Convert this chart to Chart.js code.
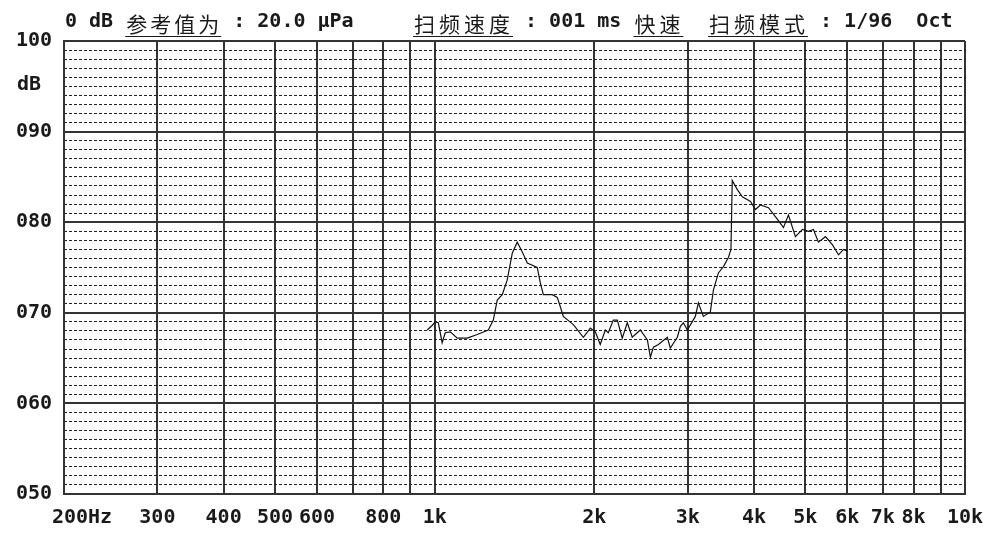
<!DOCTYPE html>
<html><head><meta charset="utf-8">
<script src="https://cdn.jsdelivr.net/npm/chart.js@4.4.1/dist/chart.umd.min.js"></script>
<style>html,body{margin:0;padding:0;background:#fff;}#wrap{width:1005px;height:547px;position:relative;}</style>
</head><body><div id="wrap"><canvas id="c" width="1005" height="547"></canvas></div>
<script>
const freqHz = [968, 989, 1002, 1016, 1033, 1047, 1070, 1103, 1152, 1203, 1262, 1290, 1312, 1341, 1370, 1401, 1431, 1463, 1495, 1561, 1582, 1603, 1666, 1703, 1725, 1748, 1826, 1907, 1966, 2009, 2052, 2098, 2125, 2172, 2210, 2258, 2308, 2358, 2442, 2518, 2551, 2585, 2642, 2746, 2782, 2868, 2906, 2944, 2996, 3101, 3142, 3211, 3310, 3354, 3428, 3504, 3579, 3620, 3640, 3721, 3804, 3940, 4026, 4114, 4260, 4430, 4546, 4646, 4789, 4938, 5068, 5179, 5292, 5456, 5626, 5774, 5900, 6004];
const levelDb = [68.1, 68.6, 69.0, 68.9, 66.7, 67.8, 67.9, 67.2, 67.2, 67.6, 68.1, 69.2, 71.4, 72.0, 73.6, 76.6, 77.8, 76.7, 75.5, 75.0, 73.3, 72.0, 72.0, 71.7, 70.7, 69.6, 68.7, 67.3, 68.3, 67.9, 66.5, 68.1, 67.8, 69.2, 69.2, 67.2, 68.9, 67.3, 68.1, 67.0, 65.1, 66.2, 66.5, 67.3, 66.1, 67.3, 68.5, 68.9, 68.1, 69.6, 71.1, 69.6, 70.1, 72.5, 74.4, 75.1, 76.1, 77.0, 84.6, 83.6, 82.8, 82.3, 81.4, 81.9, 81.6, 80.3, 79.4, 80.8, 78.4, 79.2, 79.0, 79.2, 77.8, 78.4, 77.5, 76.4, 77.0, 76.8];
const xTickValues = [200, 300, 400, 500, 600, 700, 800, 900, 1000, 2000, 3000, 4000, 5000, 6000, 7000, 8000, 9000, 10000];
const xTickLabels = ['200Hz', '300', '400', '500', '600', '', '800', '', '1k', '2k', '3k', '4k', '5k', '6k', '7k', '8k', '', '10k'];
const yMajorValues = [50, 60, 70, 80, 90, 100];
const yTickLabels = ['050', '060', '070', '080', '090', '100'];
const yUnit = 'dB';
const headerGroups = [
  [['0 dB ', false], ['参考值为', true], [' : 20.0 μPa', false]],
  [['扫频速度', true], [' : 001 ms ', false], ['快速', true]],
  [['扫频模式', true], [' : 1/96  Oct', false]]
];

const MONO = "'DejaVu Sans Mono', 'Liberation Mono', monospace";
const CJK = "'Noto Sans CJK SC', sans-serif";
const INK = '#1a1a1a';
const GRID = '#333333';

const headerPlugin = {
  id: 'header',
  afterDraw(chart) {
    const ctx = chart.ctx;
    const starts = [65, 413, 708];
    const pitch = [24, 25, 25];
    ctx.save();
    ctx.fillStyle = INK;
    ctx.strokeStyle = INK;
    ctx.textAlign = 'left';
    ctx.textBaseline = 'alphabetic';
    headerGroups.forEach((g, gi) => {
      let x = starts[gi];
      g.forEach(([txt, cjk]) => {
        if (cjk) {
          ctx.font = "400 21px " + CJK;
          const x0 = x;
          for (const ch of txt) { ctx.fillText(ch, x + 1, 32); x += pitch[gi]; }
          ctx.lineWidth = 1;
          ctx.beginPath(); ctx.moveTo(x0, 36.5); ctx.lineTo(x, 36.5); ctx.stroke();
        } else {
          ctx.font = "bold 20px " + MONO;
          ctx.fillText(txt, x, 27);
          x += ctx.measureText(txt).width;
        }
      });
    });
    const ys = chart.scales.y;
    ctx.font = "bold 20px " + MONO;
    ctx.textBaseline = 'middle';
    ctx.fillText(yUnit, 17, ys.getPixelForValue(95.2));
    ctx.restore();
  }
};

Chart.defaults.font.family = MONO;
Chart.defaults.font.weight = 'bold';
Chart.defaults.font.size = 20;
Chart.defaults.color = INK;

new Chart(document.getElementById('c'), {
  type: 'line',
  data: {
    datasets: [{
      data: freqHz.map((f, i) => ({ x: f, y: levelDb[i] })),
      borderColor: '#111',
      borderWidth: 1.2,
      pointRadius: 0,
      tension: 0,
      fill: false
    }]
  },
  options: {
    responsive: false,
    animation: false,
    devicePixelRatio: 1,
    layout: { padding: { top: 41, right: 40, left: 0, bottom: 0 } },
    plugins: { legend: { display: false }, tooltip: { enabled: false }, title: { display: false } },
    scales: {
      x: {
        type: 'logarithmic',
        min: 200, max: 10000,
        afterBuildTicks: s => { s.ticks = xTickValues.map(v => ({ value: v })); },
        afterFit: s => { s.height = 53; },
        ticks: {
          autoSkip: false, maxRotation: 0, minRotation: 0, padding: 12,
          callback: (v, i) => (i === 0 ? '   ' : '') + xTickLabels[i]
        },
        grid: { color: GRID, lineWidth: 2, drawTicks: false },
        border: { display: true, color: GRID, width: 2 }
      },
      y: {
        type: 'linear', position: 'left',
        min: 50, max: 100,
        afterBuildTicks: s => { s.ticks = yMajorValues.map(v => ({ value: v })); },
        afterFit: s => { s.width = 64; },
        ticks: { padding: 12, callback: (v, i) => yTickLabels[i] },
        grid: { color: GRID, lineWidth: 2, drawTicks: false },
        border: { display: true, color: GRID, width: 2 }
      },
      y2: {
        type: 'linear', position: 'left',
        min: 50, max: 100,
        afterFit: s => { s.width = 0; },
        ticks: { display: false, stepSize: 1 },
        grid: {
          z: -1,
          drawTicks: false,
          lineWidth: 1,
          color: c => (c.tick && c.tick.value % 10 === 0) ? 'rgba(0,0,0,0)' : '#222'
        },
        border: { display: false, dash: [3, 2] }
      }
    }
  },
  plugins: [headerPlugin]
});
</script></body></html>
